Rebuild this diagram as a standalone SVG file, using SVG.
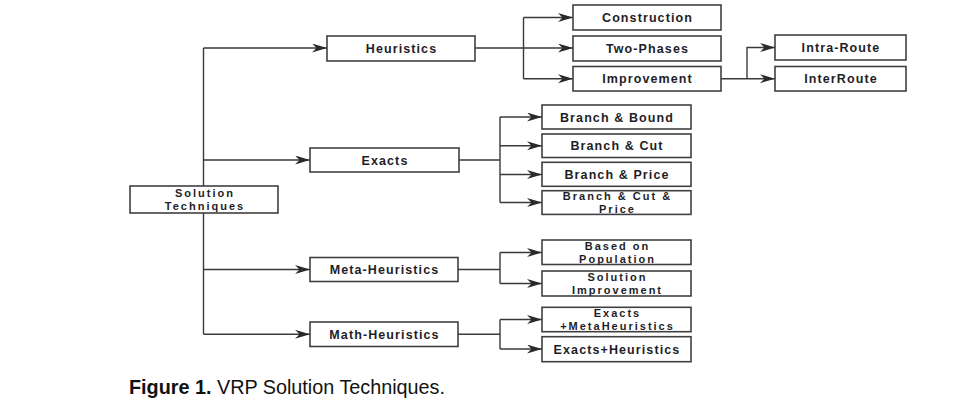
<svg xmlns="http://www.w3.org/2000/svg" width="969" height="403" viewBox="0 0 969 403">
<style>
  .box { fill: #ffffff; stroke: #404040; stroke-width: 1.6; }
  .lbl { font-family: "Liberation Sans", Arial, sans-serif; font-size: 12.5px; font-weight: bold; letter-spacing: 1.1px; fill: #1e1e28; text-anchor: middle; }
  .lbl2 { font-size: 11px; letter-spacing: 2px; }
  .conn { fill: none; stroke: #3a3a3a; stroke-width: 1.4; }
  .cap { font-family: "Liberation Sans", Arial, sans-serif; font-size: 19.8px; fill: #111111; }
</style>
<defs>
  <marker id="arr" markerUnits="userSpaceOnUse" markerWidth="16" markerHeight="10" refX="15" refY="4.5" orient="auto">
    <path d="M0,0 L15,4.5 L0,9 L4.5,4.5 Z" fill="#2a2a2a"/>
  </marker>
</defs>
<rect width="969" height="403" fill="#ffffff"/>

<g id="connectors">
  <path class="conn" d="M203.5,48 V334.3"/>
  <path class="conn" marker-end="url(#arr)" d="M203.5,48 H327"/>
  <path class="conn" marker-end="url(#arr)" d="M203.5,160 H310"/>
  <path class="conn" marker-end="url(#arr)" d="M203.5,269.5 H310"/>
  <path class="conn" marker-end="url(#arr)" d="M203.5,334.3 H310"/>

  <path class="conn" marker-end="url(#arr)" d="M475,48 H573"/>
  <path class="conn" d="M523.5,17.5 V78.7"/>
  <path class="conn" marker-end="url(#arr)" d="M523.5,17.5 H573"/>
  <path class="conn" marker-end="url(#arr)" d="M523.5,78.7 H573"/>

  <path class="conn" marker-end="url(#arr)" d="M721,78.7 H775"/>
  <path class="conn" marker-end="url(#arr)" d="M747,78.7 V47.5 H775"/>

  <path class="conn" d="M459,160 H500"/>
  <path class="conn" d="M500,117 V202.5"/>
  <path class="conn" marker-end="url(#arr)" d="M500,117 H542"/>
  <path class="conn" marker-end="url(#arr)" d="M500,145.7 H542"/>
  <path class="conn" marker-end="url(#arr)" d="M500,174.5 H542"/>
  <path class="conn" marker-end="url(#arr)" d="M500,202.5 H542"/>

  <path class="conn" d="M458,269.5 H500"/>
  <path class="conn" d="M500,252.5 V283.5"/>
  <path class="conn" marker-end="url(#arr)" d="M500,252.5 H542"/>
  <path class="conn" marker-end="url(#arr)" d="M500,283.5 H542"/>

  <path class="conn" d="M458,334.3 H500"/>
  <path class="conn" d="M500,319.5 V349"/>
  <path class="conn" marker-end="url(#arr)" d="M500,319.5 H542"/>
  <path class="conn" marker-end="url(#arr)" d="M500,349 H542"/>
</g>

<g id="solution-techniques">
  <rect class="box" x="130" y="186" width="148" height="27"/>
  <text class="lbl lbl2" x="205" y="197.1">Solution<tspan x="205" dy="12.7">Techniques</tspan></text>
</g>
<g id="heuristics">
  <rect class="box" x="327" y="36" width="148" height="25"/>
  <text class="lbl" x="401.5" y="53">Heuristics</text>
</g>
<g id="exacts">
  <rect class="box" x="310" y="148" width="149" height="24"/>
  <text class="lbl" x="385" y="164.5">Exacts</text>
</g>
<g id="meta-heuristics">
  <rect class="box" x="310" y="257.5" width="148" height="24"/>
  <text class="lbl" x="384.5" y="274">Meta-Heuristics</text>
</g>
<g id="math-heuristics">
  <rect class="box" x="310" y="322" width="148" height="24.5"/>
  <text class="lbl" x="384.5" y="338.8">Math-Heuristics</text>
</g>
<g id="construction">
  <rect class="box" x="573" y="5" width="148" height="25"/>
  <text class="lbl" x="647.5" y="22">Construction</text>
</g>
<g id="two-phases">
  <rect class="box" x="573" y="36" width="148" height="25"/>
  <text class="lbl" x="647.5" y="53">Two-Phases</text>
</g>
<g id="improvement">
  <rect class="box" x="573" y="66.5" width="148" height="24.5"/>
  <text class="lbl" x="647.5" y="83.3">Improvement</text>
</g>
<g id="intra-route">
  <rect class="box" x="775" y="35" width="131" height="25"/>
  <text class="lbl" x="841" y="52">Intra-Route</text>
</g>
<g id="inter-route">
  <rect class="box" x="775" y="66.5" width="131" height="24.5"/>
  <text class="lbl" x="841" y="83.3">InterRoute</text>
</g>
<g id="branch-bound">
  <rect class="box" x="542" y="105" width="149" height="24"/>
  <text class="lbl" x="617" y="121.5">Branch &amp; Bound</text>
</g>
<g id="branch-cut">
  <rect class="box" x="542" y="134" width="149" height="23.5"/>
  <text class="lbl" x="617" y="150.2">Branch &amp; Cut</text>
</g>
<g id="branch-price">
  <rect class="box" x="542" y="162.3" width="149" height="24"/>
  <text class="lbl" x="617" y="178.8">Branch &amp; Price</text>
</g>
<g id="branch-cut-price">
  <rect class="box" x="542" y="190.7" width="149" height="23.7"/>
  <text class="lbl lbl2" x="617.5" y="200.1">Branch &amp; Cut &amp;<tspan x="617.5" dy="12.7">Price</tspan></text>
</g>
<g id="based-on-population">
  <rect class="box" x="542" y="240" width="149" height="24.5"/>
  <text class="lbl lbl2" x="617.5" y="249.8">Based on<tspan x="617.5" dy="12.7">Population</tspan></text>
</g>
<g id="solution-improvement">
  <rect class="box" x="542" y="271" width="149" height="25"/>
  <text class="lbl lbl2" x="617.5" y="281.1">Solution<tspan x="617.5" dy="12.7">Improvement</tspan></text>
</g>
<g id="exacts-metaheuristics">
  <rect class="box" x="542" y="307.3" width="149" height="24.4"/>
  <text class="lbl lbl2" x="617.5" y="317.1">Exacts<tspan x="617.5" dy="12.7">+MetaHeuristics</tspan></text>
</g>
<g id="exacts-heuristics">
  <rect class="box" x="542" y="336.7" width="149" height="25"/>
  <text class="lbl" x="617" y="353.7">Exacts+Heuristics</text>
</g>

<text class="cap" x="129" y="393.5"><tspan font-weight="bold">Figure 1.</tspan> VRP Solution Techniques.</text>
</svg>
